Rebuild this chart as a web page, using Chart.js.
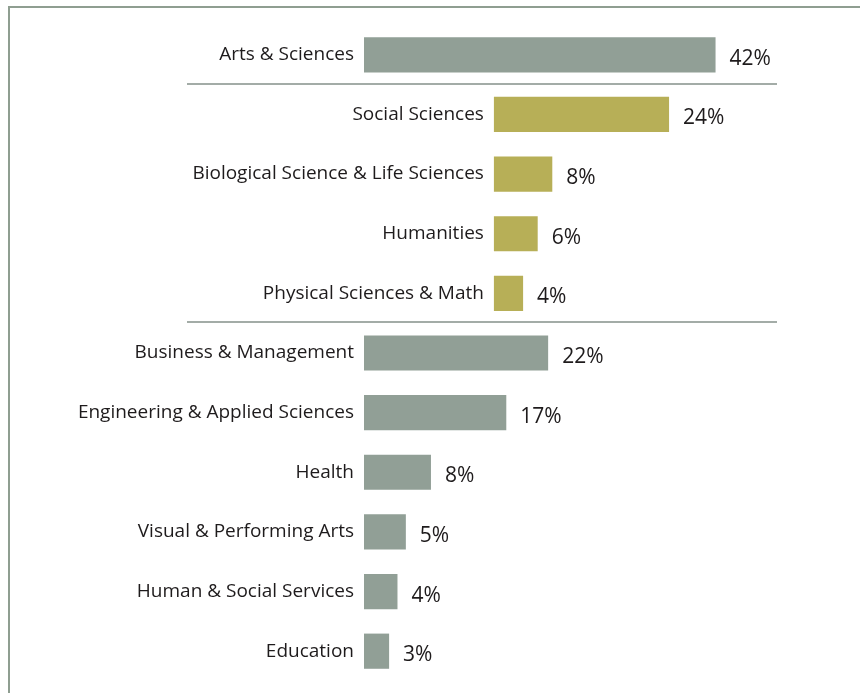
<!DOCTYPE html>
<html>
<head>
<meta charset="utf-8">
<script src="https://cdn.jsdelivr.net/npm/chart.js@4.4.1/dist/chart.umd.min.js"></script>
<style>
  html, body { margin: 0; padding: 0; background: #fff; overflow: hidden; }
  .frame {
    position: absolute; left: 8px; top: 6px; width: 2000px; height: 2000px;
    border-top: 2px solid #8f9e91; border-left: 2px solid #8f9e91;
  }
  #myChart { position: absolute; left: 0; top: 0; }
</style>
</head>
<body>
<div class="frame"></div>
<canvas id="myChart" width="860" height="693"></canvas>
<script>
const categories = [
  "Arts & Sciences",
  "Social Sciences",
  "Biological Science & Life Sciences",
  "Humanities",
  "Physical Sciences & Math",
  "Business & Management",
  "Engineering & Applied Sciences",
  "Health",
  "Visual & Performing Arts",
  "Human & Social Services",
  "Education",
];

// top-level fields (grey) and the arts & sciences breakdown (olive)
const mainShares = [42, null, null, null, null, 22, 17, 8, 5, 4, 3];
const subShares = [null, 24, 8, 6, 4, null, null, null, null, null, null];

// separators sit after these rows
const dividerAfter = [0, 4];

const labelFont = "19px 'Open Sans'";
const valueFont = "21px 'Open Sans'";

const barLabels = {
  id: "barLabels",
  afterDatasetsDraw(chart) {
    const ctx = chart.ctx;
    const yScale = chart.scales.y;
    ctx.save();

    // dividers
    ctx.strokeStyle = "#a3aca7";
    ctx.lineWidth = 2;
    dividerAfter.forEach((i) => {
      const y = Math.round((yScale.getPixelForTick(i) + yScale.getPixelForTick(i + 1)) / 2) - 1;
      ctx.beginPath();
      ctx.moveTo(187, y);
      ctx.lineTo(777, y);
      ctx.stroke();
    });

    ctx.fillStyle = "#1e1b1c";
    ctx.textBaseline = "middle";
    chart.data.datasets.forEach((ds, di) => {
      chart.getDatasetMeta(di).data.forEach((bar, i) => {
        if (ds.data[i] == null) return;
        ctx.font = labelFont;
        ctx.textAlign = "right";
        ctx.fillText(categories[i], bar.base - 10, bar.y);
        ctx.font = valueFont;
        ctx.textAlign = "left";
        ctx.fillText(ds.data[i] + "%", bar.x + 14, bar.y + 4);
      });
    });
    ctx.restore();
  },
};

new Chart(document.getElementById("myChart"), {
  type: "bar",
  data: {
    labels: categories,
    datasets: [
      {
        label: "Field",
        data: mainShares,
        xAxisID: "x",
        backgroundColor: "#919f96",
        grouped: false,
        categoryPercentage: 1,
        barPercentage: 0.59,
      },
      {
        label: "Arts & Sciences breakdown",
        data: subShares,
        xAxisID: "x2",
        backgroundColor: "#b7af57",
        grouped: false,
        categoryPercentage: 1,
        barPercentage: 0.59,
      },
    ],
  },
  options: {
    indexAxis: "y",
    responsive: false,
    animation: false,
    devicePixelRatio: 1,
    layout: { padding: { left: 364, right: 80, top: 25, bottom: 12 } },
    plugins: { legend: { display: false }, tooltip: { enabled: false } },
    scales: {
      y: { display: false },
      x: { display: false, min: 0, max: 49.7 },
      x2: { display: false, min: -17.8, max: 39.2 },
    },
  },
  plugins: [barLabels],
});
</script>
</body>
</html>
